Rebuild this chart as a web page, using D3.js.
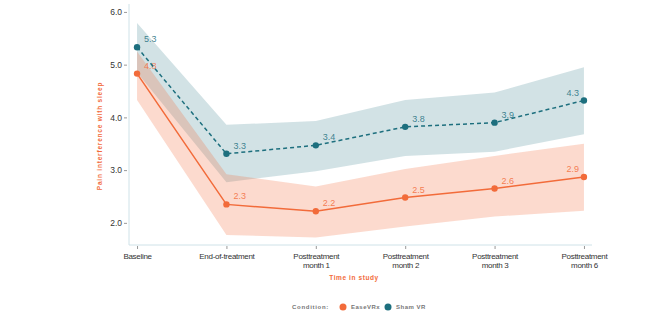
<!DOCTYPE html>
<html>
<head>
<meta charset="utf-8">
<script src="https://cdn.jsdelivr.net/npm/d3@7"></script>
<style>
  body { margin: 0; background: #fff; }
  svg { font-family: "Liberation Sans", Arial, sans-serif; }
  .tick text { fill: #333; }
</style>
</head>
<body>
<div id="chart"></div>
<script>
var timepoints = ["Baseline", "End-of-treatment", "Posttreatment month 1", "Posttreatment month 2", "Posttreatment month 3", "Posttreatment month 6"];
var easeMean  = [4.83, 2.35, 2.22, 2.48, 2.65, 2.87];
var easeLow   = [4.33, 1.77, 1.72, 1.93, 2.12, 2.23];
var easeHigh  = [5.25, 2.92, 2.69, 3.02, 3.27, 3.50];
var shamMean  = [5.33, 3.31, 3.47, 3.82, 3.90, 4.32];
var shamLow   = [4.85, 2.77, 2.98, 3.27, 3.35, 3.68];
var shamHigh  = [5.79, 3.86, 3.93, 4.33, 4.47, 4.95];
var easeLabels = ["4.8", "2.3", "2.2", "2.5", "2.6", "2.9"];
var shamLabels = ["5.3", "3.3", "3.4", "3.8", "3.9", "4.3"];
var yTicks = [2, 3, 4, 5, 6];

var width = 671, height = 313;
var orange = "#f26b3a", teal = "#1d6f7e", axisCol = "#cfe2e8";

var svg = d3.select("#chart").append("svg")
    .attr("width", width)
    .attr("height", height);

var x = d3.scalePoint()
    .domain(timepoints)
    .range([129, 592])
    .padding(0.09);

var y = d3.scaleLinear()
    .domain([1.58, 6.15])
    .range([245, 4]);

function rows(mean, lo, hi, labels) {
    return timepoints.map(function (t, i) {
        return { t: t, v: mean[i], lo: lo[i], hi: hi[i], label: labels[i], i: i };
    });
}

var series = [
    { key: "Sham VR", color: teal, dash: "4,3", data: rows(shamMean, shamLow, shamHigh, shamLabels) },
    { key: "EaseVRx", color: orange, dash: null, data: rows(easeMean, easeLow, easeHigh, easeLabels) }
];

var area = d3.area()
    .x(function (d) { return x(d.t); })
    .y0(function (d) { return y(d.lo); })
    .y1(function (d) { return y(d.hi); });

var line = d3.line()
    .x(function (d) { return x(d.t); })
    .y(function (d) { return y(d.v); });

// bands
series.forEach(function (s) {
    svg.append("path")
        .datum(s.data)
        .attr("d", area)
        .attr("fill", s.color)
        .attr("fill-opacity", s.key == "EaseVRx" ? 0.25 : 0.2);
});

// axes
var yAxis = svg.append("g")
    .attr("transform", "translate(129,0)")
    .call(d3.axisLeft(y).tickValues(yTicks).tickFormat(d3.format(".1f")).tickSize(3).tickPadding(3));
yAxis.select(".domain").attr("stroke", axisCol).attr("d", "M0,4V245");
yAxis.selectAll(".tick line").attr("stroke", "#999").attr("transform", "translate(-2,0)");
yAxis.selectAll(".tick text").attr("font-size", 8.5).attr("x", -7);

var xAxis = svg.append("g")
    .attr("transform", "translate(0,245)")
    .call(d3.axisBottom(x).tickSize(4).tickPadding(4));
xAxis.select(".domain").attr("stroke", axisCol).attr("d", "M129,0H592");
xAxis.selectAll(".tick line").attr("stroke", "#999").attr("y1", 1);
xAxis.selectAll(".tick text")
    .attr("font-size", 8)
    .attr("letter-spacing", -0.3)
    .each(function (d) {
        var t = d3.select(this), parts = d.split(" ");
        t.text(null);
        if (parts.length == 1) {
            t.append("tspan").attr("x", 0).attr("dy", "0.71em").text(d);
        } else {
            t.append("tspan").attr("x", 0).attr("dy", "0.71em").text(parts[0]);
            t.append("tspan").attr("x", 0).attr("dy", "1.2em").text(parts.slice(1).join(" "));
        }
    });

// lines, dots, labels
series.slice().reverse().forEach(function (s) {
    svg.append("path")
        .datum(s.data)
        .attr("d", line)
        .attr("fill", "none")
        .attr("stroke", s.color)
        .attr("stroke-width", 1.5)
        .attr("stroke-dasharray", s.dash);

    svg.selectAll(null)
        .data(s.data)
        .enter().append("circle")
        .attr("cx", function (d) { return x(d.t); })
        .attr("cy", function (d) { return y(d.v); })
        .attr("r", 3.2)
        .attr("fill", s.color);

    svg.selectAll(null)
        .data(s.data)
        .enter().append("text")
        .attr("x", function (d) { return x(d.t) + (d.i == 5 ? -5 : 7); })
        .attr("y", function (d) { return y(d.v) - 5; })
        .attr("text-anchor", function (d) { return d.i == 5 ? "end" : "start"; })
        .attr("font-size", 9)
        .attr("fill", s.color)
        .attr("fill-opacity", 0.85)
        .text(function (d) { return d.label; });
});

// axis titles
svg.append("text")
    .attr("transform", "translate(102,136) rotate(-90)")
    .attr("text-anchor", "middle")
    .attr("font-size", 6.5)
    .attr("font-weight", "bold")
    .attr("letter-spacing", 0.8)
    .attr("fill", orange)
    .text("Pain interference with sleep");

svg.append("text")
    .attr("x", 354)
    .attr("y", 280)
    .attr("text-anchor", "middle")
    .attr("font-size", 6.5)
    .attr("font-weight", "bold")
    .attr("letter-spacing", 0.6)
    .attr("fill", orange)
    .text("Time in study");

// legend
var legend = svg.append("g").attr("transform", "translate(292,307)");
legend.append("text")
    .attr("y", 2.2)
    .attr("font-size", 6)
    .attr("font-weight", "bold")
    .attr("letter-spacing", 0.7)
    .attr("fill", "#777")
    .text("Condition:");

var items = legend.selectAll("g.item")
    .data([{ key: "EaseVRx", color: orange, x: 51 }, { key: "Sham VR", color: teal, x: 96 }])
    .enter().append("g")
    .attr("class", "item")
    .attr("transform", function (d) { return "translate(" + d.x + ",0)"; });
items.append("circle").attr("r", 3.5).attr("fill", function (d) { return d.color; });
items.append("text")
    .attr("x", 8)
    .attr("y", 2.2)
    .attr("font-size", 6)
    .attr("font-weight", "bold")
    .attr("letter-spacing", 0.5)
    .attr("fill", "#777")
    .text(function (d) { return d.key; });
</script>
</body>
</html>
